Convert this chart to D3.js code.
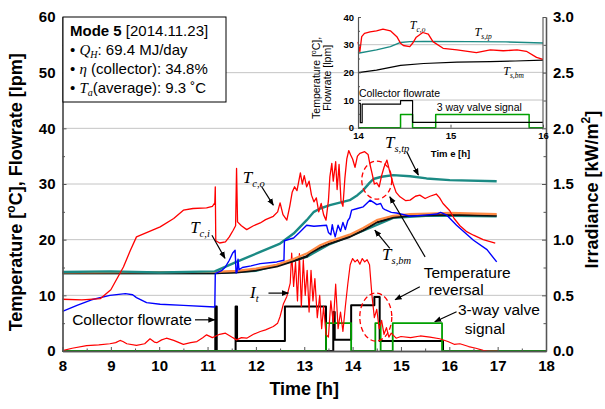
<!DOCTYPE html>
<html>
<head>
<meta charset="utf-8">
<script src="https://cdn.jsdelivr.net/npm/d3@7"></script>
<style>
  body { margin: 0; background: #fff; }
  svg { display: block; }
</style>
</head>
<body>
<svg width="605" height="409"></svg>
<script>
// ticks
let hourTicks = [8, 9, 10, 11, 12, 13, 14, 15, 16, 17, 18]
let halfHourTicks = [8.5, 9.5, 10.5, 11.5, 12.5, 13.5, 14.5, 15.5, 16.5, 17.5]
let tempTicks = [0, 10, 20, 30, 40, 50, 60]
let tempMinorTicks = [5, 15, 25, 35, 45, 55]
let gridValues = [10, 20, 30, 40, 50]
let irrTicks = [0, 0.5, 1, 1.5, 2, 2.5, 3]
let irrMinorTicks = [0.25, 0.75, 1.25, 1.75, 2.25, 2.75]
let insetTicks = [0, 10, 20, 30, 40]
let insetMinorTicks = [5, 15, 25, 35]
let insetGrid = [10, 20, 30]
let insetHourTicks = [14, 15, 16]

// main chart series, [time h, value]
let tco = [[8,9.3],[8.4,9.2],[8.78,9.4],[9.0,11],[9.26,15.1],[9.4,18],[9.53,20.5],[9.8,21.5],[10.02,22.3],[10.3,23.8],[10.5,25.3],[10.7,25.6],[10.98,25.7],[11.1,26],[11.15,26.6],[11.16,29.5],[11.17,19.8],[11.25,19.4],[11.37,19.6],[11.45,20.5],[11.53,21.7],[11.58,22.5],[11.6,32.8],[11.62,23.2],[11.7,22.5],[11.81,21.8],[11.95,22.5],[12.09,23],[12.2,23.6],[12.36,24.2],[12.45,25],[12.5,26.6],[12.56,24.5],[12.64,23.5],[12.7,26],[12.75,28.5],[12.8,29.5],[12.85,28.8],[12.92,32],[12.96,30],[13.0,31.5],[13.05,29.5],[13.1,30.5],[13.15,28],[13.2,26.8],[13.25,27.5],[13.3,25],[13.35,26.5],[13.4,24.5],[13.45,23.5],[13.5,27],[13.53,31.3],[13.57,33.7],[13.6,30.5],[13.65,34],[13.68,29],[13.72,33.5],[13.76,27],[13.8,26],[13.84,31],[13.88,34.5],[13.92,36],[13.96,35.2],[14.0,34.5],[14.05,33],[14.1,35],[14.15,35.5],[14.25,35.8],[14.32,35.3],[14.36,33.5],[14.4,32],[14.45,30],[14.5,30.2],[14.55,29.5],[14.6,31.5],[14.65,33],[14.71,34.3],[14.76,32.5],[14.84,30],[14.9,28.5],[14.98,27.7],[15.1,27],[15.19,27.1],[15.3,27.8],[15.39,28],[15.5,27.4],[15.6,27.8],[15.73,28.2],[15.8,27.5],[15.87,26.5],[16.01,25.2],[16.1,23.8],[16.22,22.5],[16.35,21.5],[16.5,20.8],[16.7,20],[16.95,19.4]]
let tci = [[8,7.1],[8.3,8.2],[8.6,9.2],[8.98,10],[9.3,10.3],[9.45,10.1],[9.53,9.6],[9.74,8.7],[10.02,8.4],[10.5,8.2],[11.15,7.9],[11.16,13.9],[11.3,14.5],[11.37,15.1],[11.45,16.3],[11.52,17.6],[11.57,18.1],[11.59,14],[11.61,14.2],[11.63,16.5],[11.65,14.6],[11.72,15],[11.9,15.3],[12.09,15.7],[12.43,16],[12.58,16.3],[12.59,19.8],[12.78,20.3],[12.9,21.3],[13.05,22.6],[13.2,22.4],[13.46,22.6],[13.5,21.3],[13.55,20.9],[13.58,22.7],[13.6,21.8],[13.64,20.5],[13.7,22.6],[13.75,21.5],[13.8,23.1],[13.85,21.8],[13.9,23.4],[13.94,23.9],[13.98,25.3],[14.1,25.6],[14.22,25.9],[14.36,27.1],[14.45,26.6],[14.5,26.3],[14.58,26.5],[14.63,25.6],[14.67,25.4],[14.8,24.9],[14.91,24.8],[15.19,24.2],[15.5,24.4],[15.74,24.6],[15.82,24.9],[15.95,24.4],[16.15,22.6],[16.5,19.9],[16.78,18.2],[16.98,16]]
let tstp = [[8,14.2],[9,14.3],[10,14.1],[11.15,14.3],[11.6,16],[12.09,17.8],[12.5,19.3],[12.78,21.1],[13.05,23.5],[13.2,25],[13.33,25.6],[13.53,26.2],[13.94,27.1],[14.1,28],[14.22,28.9],[14.35,30.2],[14.43,30.9],[14.6,31.3],[14.84,31.6],[15.19,31.4],[15.53,31],[16.01,30.7],[16.98,30.5]]
let tsbm = [[8,14],[11.15,14],[11.6,14.1],[12.0,14.5],[12.43,15.2],[12.8,16.2],[13.05,17],[13.12,17.6],[13.33,18.6],[13.53,19.3],[13.94,20.5],[14.22,21.7],[14.5,23.1],[14.84,24],[15.19,24.3],[15.6,24.4],[16.01,24.5],[16.98,24.3]]
let tsmd = [[8,14.1],[11.15,14.2],[11.6,14.4],[12.0,14.8],[12.43,15.5],[12.8,16.6],[13.05,17.5],[13.33,19.0],[13.53,19.7],[13.94,20.9],[14.22,22.1],[14.5,23.5],[14.84,24.3],[15.19,24.6],[15.6,24.7],[16.01,24.8],[16.98,24.6]]
let tslow = [[8,14.0],[11.15,14.0],[12.0,14.4],[13.05,16.9],[13.53,19.2],[14.22,21.6],[14.84,23.9],[15.6,24.3],[16.98,24.2]]
// irradiance, kW/m2
let irradiance = [[8,0.003],[8.2,0.025],[8.5,0.048],[8.75,0.055],[8.98,0.065],[9.1,0.075],[9.19,0.095],[9.25,0.085],[9.33,0.065],[9.53,0.05],[9.7,0.065],[9.81,0.11],[9.9,0.08],[9.95,0.075],[10.05,0.1],[10.15,0.115],[10.3,0.095],[10.5,0.06],[10.65,0.075],[10.78,0.085],[10.9,0.12],[10.98,0.145],[11.1,0.12],[11.15,0.13],[11.25,0.15],[11.37,0.16],[11.5,0.125],[11.6,0.1],[11.7,0.12],[11.81,0.115],[11.95,0.15],[12.09,0.175],[12.2,0.19],[12.36,0.22],[12.45,0.25],[12.5,0.31],[12.57,0.425],[12.64,0.49],[12.71,0.61],[12.74,0.88],[12.78,0.58],[12.82,0.8],[12.86,0.45],[12.9,0.875],[12.94,0.4],[12.98,0.82],[13.02,0.5],[13.06,0.725],[13.1,0.35],[13.14,0.725],[13.18,0.45],[13.22,0.65],[13.27,0.3],[13.32,0.5],[13.36,0.2],[13.4,0.4],[13.45,0.15],[13.5,0.125],[13.55,0.45],[13.6,0.25],[13.65,0.6],[13.7,0.2],[13.75,0.35],[13.8,0.175],[13.85,0.4],[13.9,0.6],[13.95,0.775],[14.0,0.83],[14.05,0.8],[14.1,0.82],[14.15,0.78],[14.2,0.83],[14.25,0.8],[14.3,0.82],[14.35,0.775],[14.4,0.5],[14.45,0.3],[14.5,0.375],[14.55,0.2],[14.6,0.275],[14.65,0.15],[14.7,0.21],[14.75,0.125],[14.8,0.16],[14.9,0.115],[15.0,0.13],[15.2,0.12],[15.4,0.135],[15.6,0.125],[15.8,0.11],[15.97,0.085],[16.1,0.06],[16.22,0.065],[16.4,0.04],[16.55,0.025],[16.7,0.005],[16.8,0],[17.0,0]]
// step series, value holds until next point
let flowrate = [[8,0],[11.16,8],[11.19,0],[11.58,8],[11.61,1.8],[12.6,8],[13.45,0],[13.6,7],[13.63,2],[13.97,8.2],[14.45,9.7],[14.56,1.8],[15.87,0],[18,0]]
let valve = [[8,0],[13.45,5],[13.97,0],[14.47,5],[14.58,0],[14.83,5],[15.85,0],[18,0]]

// inset series (14-16 h)
let insetTco = [[14,31],[14.02,27.5],[14.04,32.9],[14.07,34.1],[14.13,34.6],[14.2,35],[14.27,35.6],[14.35,35],[14.42,32.9],[14.46,30.5],[14.49,29.7],[14.56,29.3],[14.59,30.5],[14.63,32.7],[14.7,34.4],[14.76,33.8],[14.81,31.1],[14.92,28.7],[15.07,28.1],[15.28,27.1],[15.43,28.1],[15.57,27.8],[15.72,28.1],[15.82,27.6],[15.93,25.4],[16,24.7]]
let insetTstp = [[14,26.9],[14.2,28.1],[14.35,29.3],[14.46,30.8],[14.56,31.1],[14.71,31.2],[15.2,31.1],[15.6,31],[16,30.6]]
let insetTsbm = [[14,19.9],[14.2,20.8],[14.46,22.5],[14.71,23.2],[15.07,23.7],[15.43,23.9],[15.7,24.1],[16,24.4]]
let insetFlow = [[14,8.8],[14.025,1.8],[14.045,8.5],[14.46,9.75],[14.59,1.95],[16,1.95]]
let insetValve = [[14,0],[14.46,4.8],[14.59,0],[14.84,4.8],[15.85,0],[16,0]]

const sans = "Arial, 'Liberation Sans', sans-serif"
const serif = "'Times New Roman', 'Liberation Serif', serif"
const red = '#ff0000', blue = '#0000ff', teal = '#1b8a84', orange = '#ff8a45', green = '#00a000'
const axisColor = '#555'

let xScale = d3.scaleLinear().domain([8, 18]).range([62.5, 546])
let yScale = d3.scaleLinear().domain([0, 60]).range([351, 17])
let irrScale = d3.scaleLinear().domain([0, 3]).range([351, 17])
let ix = d3.scaleLinear().domain([14, 16]).range([358, 543])
let iy = d3.scaleLinear().domain([0, 40]).range([127.7, 17])

let line = d3.line().x(d => xScale(d[0])).y(d => yScale(d[1]))
let stepLine = d3.line().x(d => xScale(d[0])).y(d => yScale(d[1])).curve(d3.curveStepAfter)
let irrLine = d3.line().x(d => xScale(d[0])).y(d => irrScale(d[1]))
let insetLine = d3.line().x(d => ix(d[0])).y(d => iy(d[1]))
let insetStep = d3.line().x(d => ix(d[0])).y(d => iy(d[1])).curve(d3.curveStepAfter)

let svg = d3.select('svg')

svg.append('defs').append('marker')
  .attr('id', 'arrow')
  .attr('viewBox', '0 0 10 10')
  .attr('refX', 9).attr('refY', 5)
  .attr('markerWidth', 6).attr('markerHeight', 6)
  .attr('orient', 'auto')
  .append('path')
  .attr('d', 'M0,1L10,5L0,9z')
  .attr('fill', '#000')

// grid
svg.append('g')
  .selectAll('line')
  .data(gridValues)
  .enter()
  .append('line')
  .attr('x1', xScale(8)).attr('x2', xScale(18))
  .attr('y1', d => yScale(d)).attr('y2', d => yScale(d))
  .attr('stroke', '#c4c4c4')

// series
function drawPath(d, color, w) {
  return svg.append('path')
    .attr('d', d)
    .attr('fill', 'none')
    .attr('stroke', color)
    .attr('stroke-width', w)
    .attr('stroke-linejoin', 'round')
}
drawPath(stepLine(flowrate), '#000', 2)
drawPath(stepLine(valve), green, 1.8)
drawPath(irrLine(irradiance), red, 1.2)
drawPath(line(tslow), teal, 2.2)
drawPath(line(tsbm), '#111', 2.2)
drawPath(line(tsmd), orange, 2.2)
drawPath(line(tstp), teal, 2.4)
drawPath(line(tci), blue, 1.4)
drawPath(line(tco), red, 1.3)

// axes
function styleAxis(g) {
  g.select('.domain').attr('stroke', axisColor).attr('stroke-width', 1.3)
  g.selectAll('.tick line').attr('stroke', axisColor)
  g.selectAll('text').attr('font-family', sans).attr('font-weight', 'bold').attr('font-size', 15).attr('fill', '#000')
}
svg.append('g')
  .attr('transform', `translate(${xScale(8)},0)`)
  .call(d3.axisLeft(yScale).tickValues(tempTicks).tickSize(-4).tickSizeOuter(0).tickPadding(7))
  .call(styleAxis)
svg.append('g')
  .attr('transform', `translate(${xScale(8)},0)`)
  .call(d3.axisLeft(yScale).tickValues(tempMinorTicks).tickSize(-2.5).tickSizeOuter(0).tickFormat(''))
  .call(styleAxis)
svg.append('g')
  .attr('transform', `translate(0,${yScale(0)})`)
  .call(d3.axisBottom(xScale).tickValues(hourTicks).tickSize(-4).tickSizeOuter(0).tickPadding(9))
  .call(styleAxis)
svg.append('g')
  .attr('transform', `translate(0,${yScale(0)})`)
  .call(d3.axisBottom(xScale).tickValues(halfHourTicks).tickSize(-2.5).tickSizeOuter(0).tickFormat(''))
  .call(styleAxis)
svg.append('g')
  .attr('transform', `translate(${xScale(18)},0)`)
  .call(d3.axisRight(irrScale).tickValues(irrTicks).tickSize(-4).tickSizeOuter(0).tickPadding(7).tickFormat(d3.format('.1f')))
  .call(styleAxis)
svg.append('g')
  .attr('transform', `translate(${xScale(18)},0)`)
  .call(d3.axisRight(irrScale).tickValues(irrMinorTicks).tickSize(-2.5).tickSizeOuter(0).tickFormat(''))
  .call(styleAxis)

// axis titles
let yTitle = svg.append('text')
  .attr('transform', `translate(22,${yScale(28.5)}) rotate(-90)`)
  .attr('text-anchor', 'middle')
  .attr('font-family', sans).attr('font-weight', 'bold').attr('font-size', 18)
yTitle.append('tspan').text('Temperature [')
yTitle.append('tspan').attr('font-size', 12).attr('dy', -7).text('o')
yTitle.append('tspan').attr('dy', 7).text('C], Flowrate [lpm]')

svg.append('text')
  .attr('x', xScale(13)).attr('y', 395)
  .attr('text-anchor', 'middle')
  .attr('font-family', sans).attr('font-weight', 'bold').attr('font-size', 18)
  .text('Time [h]')

let rTitle = svg.append('text')
  .attr('transform', `translate(598,${irrScale(1.45)}) rotate(-90)`)
  .attr('text-anchor', 'middle')
  .attr('font-family', sans).attr('font-weight', 'bold').attr('font-size', 18)
rTitle.append('tspan').text('Irradiance [kW/m')
rTitle.append('tspan').attr('font-size', 12).attr('dy', -8).text('2')
rTitle.append('tspan').attr('dy', 8).text(']')

// info box
let box = svg.append('g')
box.append('rect')
  .attr('x', 63).attr('y', 17).attr('width', 163).attr('height', 85)
  .attr('fill', '#fff').attr('stroke', '#000').attr('stroke-width', 1)
let l1 = box.append('text').attr('x', 70).attr('y', 36).attr('font-family', sans).attr('font-size', 15)
l1.append('tspan').attr('font-weight', 'bold').text('Mode 5 ')
l1.append('tspan').text('[2014.11.23]')
let l2 = box.append('text').attr('x', 70).attr('y', 55).attr('font-family', sans).attr('font-size', 15)
l2.append('tspan').text('\u2022 ')
l2.append('tspan').attr('font-family', serif).attr('font-style', 'italic').text('Q')
l2.append('tspan').attr('font-family', serif).attr('font-style', 'italic').attr('font-size', 10).attr('dy', 3).text('H')
l2.append('tspan').attr('dy', -3).text(': 69.4 MJ/day')
let l3 = box.append('text').attr('x', 70).attr('y', 74).attr('font-family', sans).attr('font-size', 15)
l3.append('tspan').text('\u2022 ')
l3.append('tspan').attr('font-family', serif).attr('font-style', 'italic').text('\u03b7')
l3.append('tspan').text(' (collector): 34.8%')
let l4 = box.append('text').attr('x', 70).attr('y', 93).attr('font-family', sans).attr('font-size', 15)
l4.append('tspan').text('\u2022 ')
l4.append('tspan').attr('font-family', serif).attr('font-style', 'italic').text('T')
l4.append('tspan').attr('font-family', serif).attr('font-style', 'italic').attr('font-size', 10).attr('dy', 3).text('a')
l4.append('tspan').attr('dy', -3).text('(average): 9.3 \u02daC')

// inset
let inset = svg.append('g')
inset.append('rect')
  .attr('x', ix(14)).attr('y', iy(40))
  .attr('width', ix(16) - ix(14)).attr('height', iy(0) - iy(40))
  .attr('fill', '#fff')
inset.selectAll('.igrid')
  .data(insetGrid)
  .enter()
  .append('line')
  .attr('x1', ix(14)).attr('x2', ix(16))
  .attr('y1', d => iy(d)).attr('y2', d => iy(d))
  .attr('stroke', '#c4c4c4')
function insetPath(d, color, w) {
  inset.append('path')
    .attr('d', d).attr('fill', 'none')
    .attr('stroke', color).attr('stroke-width', w)
    .attr('stroke-linejoin', 'round')
}
insetPath(insetStep(insetValve), green, 1.5)
insetPath(insetStep(insetFlow), '#000', 1.2)
insetPath(insetLine(insetTsbm), '#000', 1.2)
insetPath(insetLine(insetTstp), teal, 1.4)
insetPath(insetLine(insetTco), red, 1.3)

function styleInsetAxis(g) {
  g.select('.domain').attr('stroke', axisColor).attr('stroke-width', 1.1)
  g.selectAll('.tick line').attr('stroke', axisColor)
  g.selectAll('text').attr('font-family', sans).attr('font-weight', 'bold').attr('font-size', 9.5).attr('fill', '#000')
}
inset.append('g')
  .attr('transform', `translate(${ix(14)},0)`)
  .call(d3.axisLeft(iy).tickValues(insetTicks).tickSize(-3).tickSizeOuter(0).tickPadding(4))
  .call(styleInsetAxis)
inset.append('g')
  .attr('transform', `translate(${ix(14)},0)`)
  .call(d3.axisLeft(iy).tickValues(insetMinorTicks).tickSize(-2).tickSizeOuter(0).tickFormat(''))
  .call(styleInsetAxis)
inset.append('g')
  .attr('transform', `translate(0,${iy(0)})`)
  .call(d3.axisBottom(ix).tickValues(insetHourTicks).tickSize(-3).tickSizeOuter(0).tickPadding(5).tickFormat(d3.format('d')))
  .call(styleInsetAxis)
inset.append('line')
  .attr('x1', ix(16)).attr('x2', ix(16))
  .attr('y1', iy(0)).attr('y2', iy(40))
  .attr('stroke', axisColor).attr('stroke-width', 1.1)

inset.append('text')
  .attr('x', ix(15)).attr('y', 157)
  .attr('text-anchor', 'middle')
  .attr('font-family', sans).attr('font-weight', 'bold').attr('font-size', 9.5)
  .text('Tim e [h]')
let iyt = inset.append('text')
  .attr('transform', `translate(320,${iy(18)}) rotate(-90)`)
  .attr('text-anchor', 'middle')
  .attr('font-family', sans).attr('font-size', 10.5)
iyt.append('tspan').text('Temperature [')
iyt.append('tspan').attr('font-size', 7).attr('dy', -4).text('o')
iyt.append('tspan').attr('dy', 4).text('C],')
inset.append('text')
  .attr('transform', `translate(331,${iy(18)}) rotate(-90)`)
  .attr('text-anchor', 'middle')
  .attr('font-family', sans).attr('font-size', 10.5)
  .text('Flowrate [lpm]')

function mathLabel(g, x, y, main, sub, size) {
  let t = g.append('text')
    .attr('x', x).attr('y', y)
    .attr('font-family', serif).attr('font-style', 'italic').attr('font-size', size)
  t.append('tspan').text(main)
  t.append('tspan').attr('font-size', size * 0.62).attr('dy', size * 0.22).text(sub)
}
mathLabel(inset, ix(14.56), iy(35.6), 'T', 'c,o', 12)
mathLabel(inset, ix(15.26), iy(33.1), 'T', 's,tp', 12)
mathLabel(inset, ix(15.57), iy(19), 'T', 's,bm', 12)
inset.append('text')
  .attr('x', ix(14.01)).attr('y', iy(11.1))
  .attr('font-family', sans).attr('font-size', 10.5)
  .text('Collector flowrate')
inset.append('text')
  .attr('x', ix(14.85)).attr('y', iy(6))
  .attr('font-family', sans).attr('font-size', 10.5)
  .text('3 way valve signal')

// annotations on the main chart
let notes = svg.append('g')
mathLabel(notes, xScale(11.73), yScale(30.2), 'T', 'c,o', 17)
mathLabel(notes, xScale(10.64), yScale(21.2), 'T', 'c,i', 17)
mathLabel(notes, xScale(11.88), yScale(9.5), 'I', 't', 17)
mathLabel(notes, xScale(14.67), yScale(36.5), 'T', 's,tp', 17)
mathLabel(notes, xScale(14.61), yScale(16.3), 'T', 's,bm', 17)

function textNote(x, y, txt, anchor) {
  notes.append('text')
    .attr('x', x).attr('y', y)
    .attr('text-anchor', anchor || 'start')
    .attr('font-family', sans).attr('font-size', 15.5)
    .text(txt)
}
textNote(xScale(8.2), yScale(4.7), 'Collector flowrate')
textNote(xScale(16.37), yScale(13.1), 'Temperature', 'middle')
textNote(xScale(16.14), yScale(10.1), 'reversal', 'middle')
textNote(xScale(16.18), yScale(6.5), '3-way valve')
textNote(xScale(16.32), yScale(3.05), 'signal')

function arrow(a, b) {
  notes.append('line')
    .attr('x1', xScale(a[0])).attr('y1', yScale(a[1]))
    .attr('x2', xScale(b[0])).attr('y2', yScale(b[1]))
    .attr('stroke', '#000').attr('stroke-width', 1.2)
    .attr('marker-end', 'url(#arrow)')
}
arrow([12.12, 29.5], [12.36, 26.2])
arrow([11.09, 20.8], [11.36, 16.65])
arrow([12.26, 10.4], [12.67, 10.4])
arrow([10.74, 5.6], [11.15, 5.6])
arrow([15.12, 35.8], [15.36, 31.6])
arrow([14.77, 18.45], [14.46, 21.7])
arrow([15.5, 16.9], [14.77, 27.7])
arrow([15.39, 11.55], [14.88, 9.2])
arrow([16.15, 7.06], [15.7, 5.26])

function dashedCircle(t, v, rx, ry) {
  notes.append('ellipse')
    .attr('cx', xScale(t)).attr('cy', yScale(v))
    .attr('rx', rx).attr('ry', ry)
    .attr('fill', 'none')
    .attr('stroke', red).attr('stroke-width', 1.3)
    .attr('stroke-dasharray', '5,3')
}
dashedCircle(14.5, 30.7, 15, 19)
dashedCircle(14.48, 6.1, 16, 24)
</script>
</body>
</html>
